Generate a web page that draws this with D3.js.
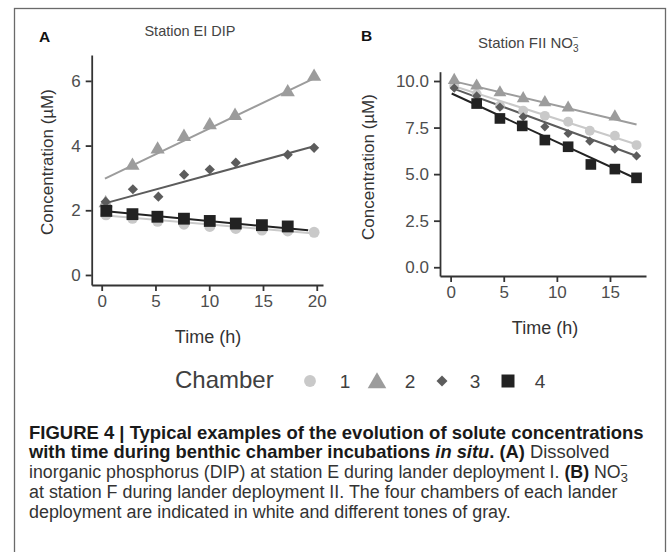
<!DOCTYPE html>
<html><head><meta charset="utf-8">
<script src="https://cdn.jsdelivr.net/npm/d3@7"></script>
<style>body{margin:0;background:#fff} svg{display:block}</style>
</head><body><svg id="c" width="669" height="552"></svg>
<script>
// ---------------- DATA ----------------
const chamberLabels = ["1", "2", "3", "4"];

// Panel A: Station EI DIP
const dipTime1 = [0.4, 2.86, 5.2, 7.65, 10.05, 12.47, 14.9, 17.3, 19.75];
const dipConc1 = [1.86, 1.75, 1.66, 1.57, 1.5, 1.44, 1.39, 1.36, 1.32];
const dipTime2 = [0.37, 2.86, 5.2, 7.65, 10.05, 12.4, 17.3, 19.75];
const dipConc2 = [2.22, 3.38, 3.88, 4.27, 4.63, 4.92, 5.65, 6.13];
const dipTime3 = [0.37, 2.9, 5.27, 7.66, 10.05, 12.47, 17.3, 19.75];
const dipConc3 = [2.26, 2.65, 2.42, 3.1, 3.26, 3.47, 3.72, 3.93];
const dipTime4 = [0.43, 2.86, 5.18, 7.65, 10.05, 12.47, 14.9, 17.3];
const dipConc4 = [1.98, 1.88, 1.8, 1.74, 1.67, 1.59, 1.54, 1.5];
// fitted lines: [t0, c0, t1, c1]
const dipFit1 = [0.4, 1.84, 19.75, 1.28];
const dipFit2 = [0.3, 2.98, 19.75, 6.08];
const dipFit3 = [0.37, 2.22, 19.75, 3.98];
const dipFit4 = [0.43, 1.97, 19.2, 1.38];
const dipXTicks = [0, 5, 10, 15, 20];
const dipYTicks = [0, 2, 4, 6];

// Panel B: Station FII NO3-
const nitTime1 = [0.34, 2.45, 4.64, 6.83, 8.87, 11.06, 13.1, 15.46, 17.5];
const nitConc1 = [9.75, 9.3, 8.67, 8.4, 8.13, 7.81, 7.33, 7.06, 6.56];
const nitTime2 = [0.34, 2.45, 4.64, 6.83, 8.87, 11.06, 15.46];
const nitConc2 = [10.04, 9.74, 9.38, 9.06, 8.85, 8.56, 8.08];
const nitTime3 = [0.34, 2.45, 4.64, 6.83, 8.87, 11.06, 13.1, 15.46, 17.5];
const nitConc3 = [9.62, 9.2, 8.6, 8.08, 7.54, 7.18, 6.77, 6.34, 5.98];
const nitTime4 = [2.45, 4.64, 6.74, 8.87, 11.06, 13.2, 15.46, 17.5];
const nitConc4 = [8.79, 7.99, 7.59, 6.83, 6.47, 5.52, 5.27, 4.8];
const nitFit1 = [0.34, 9.72, 17.6, 6.58];
const nitFit2 = [0.34, 9.98, 17.5, 7.67];
const nitFit3 = [0.34, 9.58, 17.7, 5.93];
const nitFit4 = [0.1, 9.33, 17.8, 4.67];
const nitXTicks = [0, 5, 10, 15];
const nitYTicks = [0, 2.5, 5, 7.5, 10];

// ---------------- STYLE ----------------
const chamberColors = ["#c9c9c9", "#9c9c9c", "#5c5c5c", "#222222"];
const FONT = "'Liberation Sans', Arial, Helvetica, sans-serif";
const svg = d3.select("#c");

// outer frame
svg.append("rect").attr("x", 14.5).attr("y", 8.5).attr("width", 651).attr("height", 560)
  .attr("fill", "none").attr("stroke", "#6a6a6a").attr("stroke-width", 1.3);

function symbolPath(i, s) {
  const types = [d3.symbolCircle, d3.symbolTriangle, d3.symbolSquare, d3.symbolSquare];
  const areas = [95, 88, 52, 140];
  return d3.symbol(types[i], areas[i] * s * s)();
}
function symbolRot(i) { return i === 2 ? 45 : 0; }

function drawPanel(cfg) {
  const g = svg.append("g");
  const x = d3.scaleLinear().domain(cfg.xDomain).range([cfg.left, cfg.right]);
  const y = d3.scaleLinear().domain(cfg.yDomain).range([cfg.bottom, cfg.top]);

  // fitted lines
  cfg.fits.forEach((f, i) => {
    g.append("line")
      .attr("x1", x(f[0])).attr("y1", y(f[1])).attr("x2", x(f[2])).attr("y2", y(f[3]))
      .attr("stroke", chamberColors[i]).attr("stroke-width", 2);
  });
  // points
  cfg.series.forEach((s, i) => {
    const pts = s.t.map((t, k) => [t, s.c[k]]);
    g.selectAll(null).data(pts).enter().append("path")
      .attr("d", symbolPath(i, cfg.symScale))
      .attr("transform", d => `translate(${x(d[0])},${y(d[1])}) rotate(${symbolRot(i)})`)
      .attr("fill", chamberColors[i]);
  });

  // axes
  const ax = g.append("g").attr("transform", `translate(0,${cfg.bottom})`)
    .call(d3.axisBottom(x).tickValues(cfg.xTicks).tickSize(6).tickSizeOuter(0).tickPadding(4).tickFormat(d3.format("d")));
  const ay = g.append("g").attr("transform", `translate(${cfg.left},0)`)
    .call(d3.axisLeft(y).tickValues(cfg.yTicks).tickSize(6).tickSizeOuter(0).tickPadding(5).tickFormat(cfg.yFormat));
  [ax, ay].forEach(a => {
    a.select(".domain").attr("stroke", "#333").attr("stroke-width", 1.8);
    a.selectAll(".tick line").attr("stroke", "#333").attr("stroke-width", 1.8);
    a.selectAll(".tick text").attr("fill", "#4d4d4d").style("font-family", FONT).style("font-size", "17px");
  });

  // axis titles
  g.append("text").attr("x", cfg.xTitleX).attr("y", cfg.xTitleY).attr("text-anchor", "middle")
    .style("font-family", FONT).style("font-size", "18px").attr("fill", "#333").text("Time (h)");
  g.append("text").attr("transform", `translate(${cfg.yTitleX},${cfg.yTitleY}) rotate(-90)`)
    .attr("text-anchor", "middle").style("font-family", FONT).style("font-size", "17px")
    .attr("fill", "#333").text("Concentration (µM)");

  // panel letter
  g.append("text").attr("x", cfg.letterX).attr("y", cfg.letterY)
    .style("font-family", FONT).style("font-size", "15.5px").style("font-weight", "bold")
    .attr("fill", "#111").text(cfg.letter);
  return g;
}

const gA = drawPanel({
  left: 91.7, right: 323, top: 55, bottom: 285,
  xDomain: [-0.93, 20.58], yDomain: [-0.31, 6.8],
  xTicks: dipXTicks, yTicks: dipYTicks, yFormat: d3.format("d"),
  fits: [dipFit1, dipFit2, dipFit3, dipFit4],
  series: [{t: dipTime1, c: dipConc1}, {t: dipTime2, c: dipConc2}, {t: dipTime3, c: dipConc3}, {t: dipTime4, c: dipConc4}],
  symScale: 1,
  xTitleX: 208, xTitleY: 343, yTitleX: 53, yTitleY: 162,
  letter: "A", letterX: 39, letterY: 42
});
gA.append("text").attr("x", 190).attr("y", 36).attr("text-anchor", "middle")
  .style("font-family", FONT).style("font-size", "14.5px").attr("fill", "#444").text("Station EI DIP");

const gB = drawPanel({
  left: 440, right: 646, top: 71.7, bottom: 276,
  xDomain: [-1.0, 18.39], yDomain: [-0.47, 10.5],
  xTicks: nitXTicks, yTicks: nitYTicks, yFormat: d3.format(".1f"),
  fits: [nitFit1, nitFit2, nitFit3, nitFit4],
  series: [{t: nitTime1, c: nitConc1}, {t: nitTime2, c: nitConc2}, {t: nitTime3, c: nitConc3}, {t: nitTime4, c: nitConc4}],
  symScale: 0.9,
  xTitleX: 545, xTitleY: 334, yTitleX: 374, yTitleY: 167,
  letter: "B", letterX: 361, letterY: 41
});
const tB = gB.append("text").attr("x", 478).attr("y", 48)
  .style("font-family", FONT).style("font-size", "15px").attr("fill", "#444");
tB.append("tspan").text("Station FII NO");
tB.append("tspan").attr("dy", 4).style("font-size", "10px").text("3");
tB.append("tspan").attr("dx", -6).attr("dy", -11).style("font-size", "10px").text("−");

// ---------------- LEGEND ----------------
const lg = svg.append("g");
lg.append("text").attr("x", 175).attr("y", 388).style("font-family", FONT).style("font-size", "24px")
  .attr("fill", "#404040").text("Chamber");
const keyX = [310, 377, 442, 508];
const keyLabelX = [345, 410, 475, 540];
const keyArea = [110, 150, 60, 169];
const keyTypes = [d3.symbolCircle, d3.symbolTriangle, d3.symbolSquare, d3.symbolSquare];
chamberLabels.forEach((lab, i) => {
  lg.append("path").attr("d", d3.symbol(keyTypes[i], keyArea[i])())
    .attr("transform", `translate(${keyX[i]},${i === 1 ? 383 : 381}) rotate(${symbolRot(i)})`)
    .attr("fill", chamberColors[i]);
  lg.append("text").attr("x", keyLabelX[i]).attr("y", 388).attr("text-anchor", "middle")
    .style("font-family", FONT).style("font-size", "19px").attr("fill", "#404040").text(lab);
});

// ---------------- CAPTION ----------------
const CAPFONT = "'Liberation Sans', Arial, Helvetica, sans-serif";
const capLines = [
  {y: 438.5, w: 615, parts: [{t: "FIGURE 4 | Typical examples of the evolution of solute concentrations", b: true}]},
  {y: 458, w: 581, parts: [{t: "with time during benthic chamber incubations ", b: true}, {t: "in situ", b: true, i: true}, {t: ". (A)", b: true}, {t: " Dissolved"}]},
  {y: 478, w: 607, parts: [{t: "inorganic phosphorus (DIP) at station E during lander deployment I. "}, {t: "(B)", b: true}, {t: " NO"}, {t: "3", sub: true}, {t: "−", sup: true}]},
  {y: 498, w: 589, parts: [{t: "at station F during lander deployment II. The four chambers of each lander"}]},
  {y: 517.5, w: 482, parts: [{t: "deployment are indicated in white and different tones of gray."}]}
];
capLines.forEach(line => {
  const t = svg.append("text").attr("x", 0).attr("y", 0)
    .style("font-family", CAPFONT).style("font-size", "18px").attr("fill", "#333");
  line.parts.forEach(p => {
    const s = t.append("tspan").text(p.t);
    if (p.b) s.style("font-weight", "bold").attr("fill", "#1a1a1a");
    if (p.i) s.style("font-style", "italic");
    if (p.sub) s.attr("dy", 4).style("font-size", "13px");
    if (p.sup) s.attr("dx", -8).attr("dy", -12).style("font-size", "13px");
  });
  const len = t.node().getComputedTextLength();
  t.attr("transform", `translate(29,${line.y}) scale(${line.w / len},1)`);
});
</script>
</body></html>
